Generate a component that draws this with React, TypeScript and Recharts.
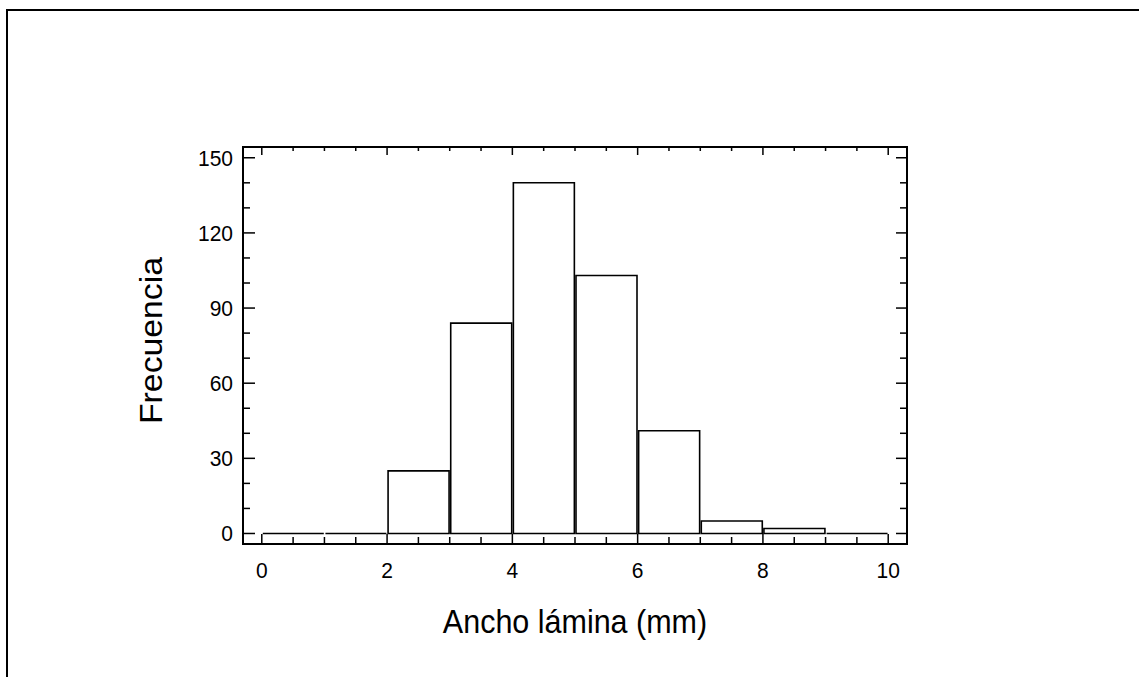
import { BarChart, Bar, XAxis, YAxis, Label } from 'recharts';

const binCenters = [0.5, 1.5, 2.5, 3.5, 4.5, 5.5, 6.5, 7.5, 8.5, 9.5];
const frequencies = [0, 0, 25, 84, 140, 103, 41, 5, 2, 0];
const xTicks = [0, 0.5, 1, 1.5, 2, 2.5, 3, 3.5, 4, 4.5, 5, 5.5, 6, 6.5, 7, 7.5, 8, 8.5, 9, 9.5, 10];
const yTicks = [0, 10, 20, 30, 40, 50, 60, 70, 80, 90, 100, 110, 120, 130, 140, 150];
const xLabel = 'Ancho lámina (mm)';
const yLabel = 'Frecuencia';

const data = binCenters.map((center, i) => ({ center, freq: frequencies[i] }));

const FONT = '"Liberation Sans", Arial, sans-serif';
const SY = 1.09; // the original text is a little taller than it is wide
const axisLine = { stroke: '#000', strokeWidth: 2, strokeLinecap: 'square' as const };

const Txt = ({ x, y, size, anchor, rotate, children }: any) => (
  <text
    transform={`translate(${x},${y}) scale(1,${SY})${rotate ? ' rotate(-90)' : ''}`}
    x={0}
    y={0}
    textAnchor={anchor}
    fontSize={size}
    fontFamily={FONT}
    fill="#000"
  >
    {children}
  </text>
);

const BinShape = (props: any) => {
  const { x, y, width, height } = props;
  return (
    <path
      d={`M${x},${y} h${width} v${height} h${-width} Z`}
      fill="#fff"
      stroke="#000"
      strokeWidth={1.6}
    />
  );
};

const BottomTick = ({ x, y, payload }: any) => {
  const major = payload.value % 2 === 0;
  return (
    <g>
      <line x1={x} y1={y} x2={x} y2={y - (major ? 10 : 7)} stroke="#000" strokeWidth={1.5} />
      {major && (
        <Txt x={x} y={y + 34} size={21} anchor="middle">
          {payload.value}
        </Txt>
      )}
    </g>
  );
};

const TopTick = ({ x, y, payload }: any) => {
  const major = payload.value % 2 === 0;
  return <line x1={x} y1={y} x2={x} y2={y + (major ? 8 : 4)} stroke="#000" strokeWidth={1.5} />;
};

const LeftTick = ({ x, y, payload }: any) => {
  const major = payload.value % 30 === 0;
  return (
    <g>
      <line x1={x} y1={y} x2={x + (major ? 12 : 7)} y2={y} stroke="#000" strokeWidth={1.5} />
      {major && (
        <Txt x={x - 10} y={y + 8} size={21} anchor="end">
          {payload.value}
        </Txt>
      )}
    </g>
  );
};

const RightTick = ({ x, y, payload }: any) => {
  const major = payload.value % 30 === 0;
  return <line x1={x} y1={y} x2={x - (major ? 11 : 7)} y2={y} stroke="#000" strokeWidth={1.5} />;
};

export default function App() {
  return (
    <div style={{ position: 'absolute', left: 0, top: 0, width: 1139, height: 677, overflow: 'hidden', background: '#fff' }}>
      <svg width={1139} height={677} style={{ position: 'absolute', left: 0, top: 0 }}>
        <path d="M7,677 V10 H1139" fill="none" stroke="#000" strokeWidth={2} />
      </svg>
      <div style={{ position: 'absolute', left: 0, top: 0 }}>
        <BarChart
          width={1139}
          height={677}
          data={data}
          margin={{ top: 146, right: 231, bottom: 73, left: 183 }}
          barCategoryGap={0}
          barGap={0}
        >
          <XAxis
            xAxisId="bottom"
            dataKey="center"
            type="number"
            domain={[-0.3, 10.3]}
            allowDataOverflow
            ticks={xTicks}
            interval={0}
            height={60}
            tickSize={0}
            tickMargin={0}
            tickLine={false}
            axisLine={axisLine}
            tick={<BottomTick />}
          >
            <Label
              content={({ viewBox }: any) => (
                <Txt x={viewBox.x + viewBox.width / 2} y={viewBox.y + 89} size={30.5} anchor="middle">
                  {xLabel}
                </Txt>
              )}
            />
          </XAxis>
          <XAxis
            xAxisId="top"
            orientation="top"
            dataKey="center"
            type="number"
            domain={[-0.3, 10.3]}
            allowDataOverflow
            ticks={xTicks}
            interval={0}
            height={1}
            tickSize={0}
            tickMargin={0}
            tickLine={false}
            axisLine={axisLine}
            tick={<TopTick />}
          />
          <YAxis
            yAxisId="left"
            type="number"
            domain={[-4.2, 154.3]}
            allowDataOverflow
            ticks={yTicks}
            interval={0}
            width={60}
            tickSize={0}
            tickMargin={0}
            tickLine={false}
            axisLine={axisLine}
            tick={<LeftTick />}
          >
            <Label
              content={({ viewBox }: any) => (
                <Txt x={162} y={viewBox.y + viewBox.height / 2 - 5} size={31} anchor="middle" rotate>
                  {yLabel}
                </Txt>
              )}
            />
          </YAxis>
          <YAxis
            yAxisId="right"
            orientation="right"
            type="number"
            domain={[-4.2, 154.3]}
            allowDataOverflow
            ticks={yTicks}
            interval={0}
            width={1}
            tickSize={0}
            tickMargin={0}
            tickLine={false}
            axisLine={axisLine}
            tick={<RightTick />}
          />
          <Bar
            xAxisId="bottom"
            yAxisId="left"
            dataKey="freq"
            barSize={61}
            shape={<BinShape />}
            isAnimationActive={false}
          />
        </BarChart>
      </div>
    </div>
  );
}
